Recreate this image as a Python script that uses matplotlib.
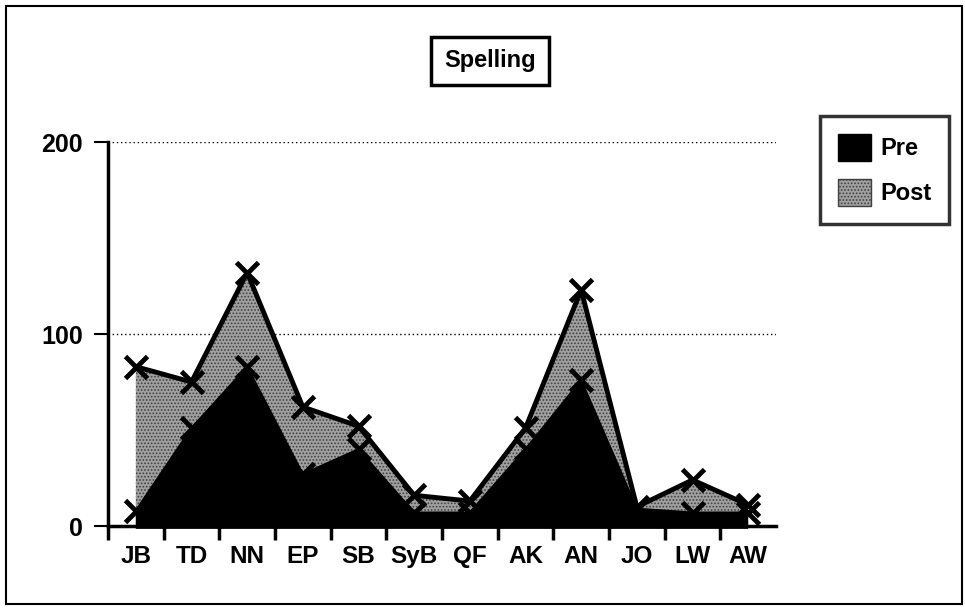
import matplotlib.pyplot as plt
import matplotlib.patches as mpatches
import numpy as np

plt.rcParams['font.family'] = ['Liberation Sans', 'DejaVu Sans']
plt.rcParams['font.weight'] = 'bold'
plt.rcParams['hatch.linewidth'] = 0.8

names = ['JB', 'TD', 'NN', 'EP', 'SB', 'SyB', 'QF', 'AK', 'AN', 'JO', 'LW', 'AW']
post = [83, 75, 132, 62, 52, 16, 13, 51, 123, 10, 24, 11]
pre = [8, 51, 83, 27, 40, 7, 7, 40, 76, 9, 7, 7]
yticks = [0, 100, 200]

x = np.arange(len(names))

fig = plt.figure(figsize=(9.65, 6.09), dpi=100)
ax = fig.add_axes([108/965, 1 - 526/609, (776 - 108)/965, (526 - 142)/609])

# post area (stippled grey) behind
ax.fill_between(x, 0, post, facecolor='#a0a0a0', edgecolor='#404040',
                hatch='.....', linewidth=0, zorder=1)
ax.plot(x, post, color='black', lw=3.5, marker='x', ms=16, mew=3.5, zorder=2,
        clip_on=False)

# pre area (black) on top
ax.fill_between(x, -1.5, pre, facecolor='black', linewidth=0, zorder=3,
                clip_on=False)
ax.plot(x, pre, color='black', lw=1.5, marker='x', ms=16, mew=3.5, zorder=4,
        clip_on=False)

ax.set_xlim(-0.5, 11.5)
ax.set_ylim(0, 200)

for v in yticks[1:]:
    ax.axhline(v, color='black', lw=1, ls=(0, (1, 2)), zorder=0)

ax.set_yticks(yticks)
ax.set_yticklabels([str(v) for v in yticks], fontsize=18)
ax.tick_params(axis='y', length=10, width=1.5, pad=8)

ax.set_xticks(x)
ax.set_xticklabels(names, fontsize=17.5)
ax.tick_params(axis='x', which='major', length=0, pad=14)
ax.set_xticks(np.arange(-0.5, 11, 1), minor=True)
ax.tick_params(axis='x', which='minor', length=10, width=2.5, direction='out')

for s in ['top', 'right']:
    ax.spines[s].set_visible(False)
ax.spines['left'].set_linewidth(2.5)
ax.spines['bottom'].set_linewidth(2.5)

# title in a box
fig.text(490/965, 1 - 61/609, 'Spelling', fontsize=17, ha='center', va='center',
         bbox=dict(boxstyle='square,pad=0.55', facecolor='white',
                   edgecolor='black', linewidth=2.5))

# legend
handles = [mpatches.Patch(facecolor='black', edgecolor='black', label='Pre'),
           mpatches.Patch(facecolor='#a0a0a0', edgecolor='#404040', hatch='.....',
                          label='Post')]
leg = fig.legend(handles=handles, loc='upper left',
                 bbox_to_anchor=(820/965, 1 - 116/609), borderaxespad=0,
                 prop={'size': 17, 'weight': 'bold'}, frameon=True, fancybox=False,
                 handlelength=1.4, handleheight=1.4, handletextpad=0.4,
                 borderpad=0.75, labelspacing=0.75)
leg.get_frame().set_edgecolor('black')
leg.get_frame().set_linewidth(2.5)

# outer frame
fig.patches.append(mpatches.Rectangle((6/965, 5/609), 956/965, 598/609,
                                      transform=fig.transFigure, fill=False,
                                      edgecolor='black', linewidth=1.5))

fig.savefig('out.png', dpi=100)
